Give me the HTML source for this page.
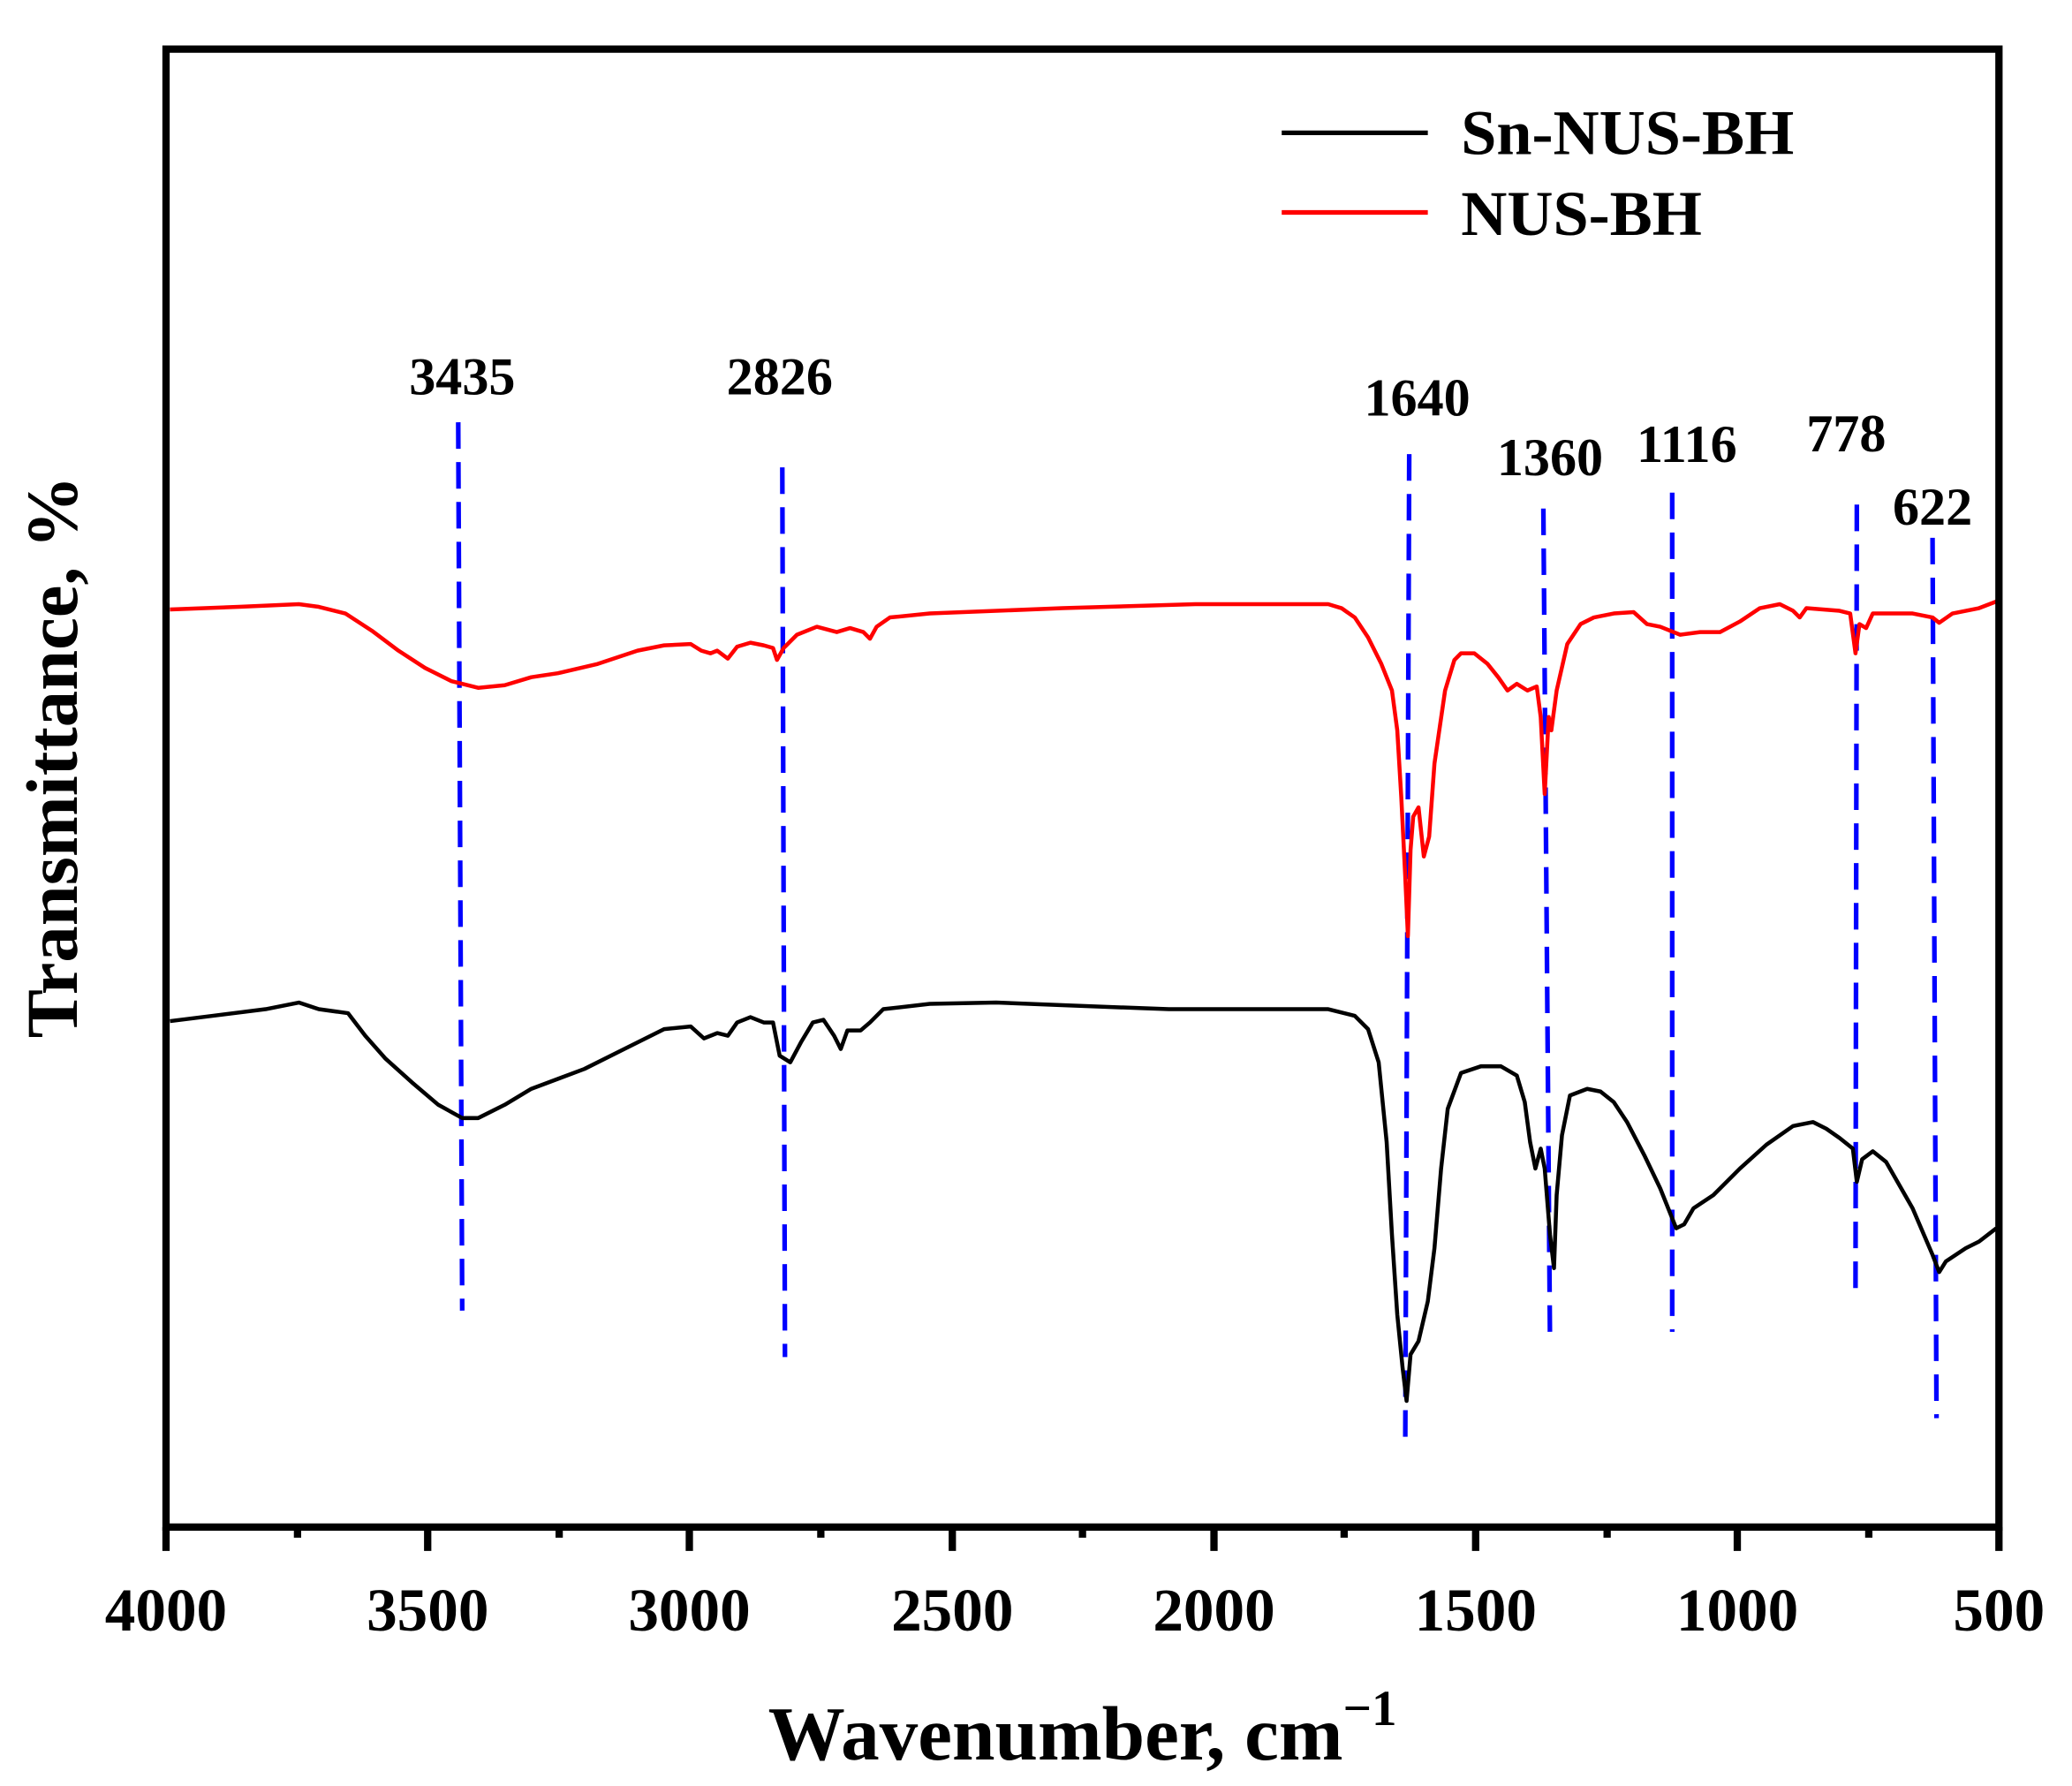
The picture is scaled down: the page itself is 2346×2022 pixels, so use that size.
<!DOCTYPE html>
<html><head><meta charset="utf-8"><style>html,body{margin:0;padding:0;background:#fff}svg{display:block}</style></head>
<body>
<svg width="2346" height="2022" viewBox="0 0 1560 1345" preserveAspectRatio="none" xmlns="http://www.w3.org/2000/svg" font-family="Liberation Serif, serif" font-weight="bold">
<rect width="1560" height="1345" fill="#fff"/>
<g stroke="#00f" stroke-width="3.5" stroke-dasharray="20,10" fill="none">
<line x1="345" y1="318" x2="348" y2="987"/>
<line x1="589" y1="352" x2="591" y2="1022"/>
<line x1="1061" y1="342" x2="1058" y2="1090"/>
<line x1="1162" y1="383" x2="1167" y2="1012"/>
<line x1="1259" y1="371" x2="1259" y2="1003"/>
<line x1="1398" y1="380" x2="1397" y2="972"/>
<line x1="1455" y1="405" x2="1458" y2="1068"/>
</g>
<polyline fill="none" stroke="#f00" stroke-width="3" stroke-linejoin="round" points="128,459 180,457 225,455 240,457 260,462 280,475 300,490 320,503 340,513 360,518 380,516 400,510 420,507 450,500 480,490 500,486 520,485 528,490 535,492 540,490 548,496 555,487 565,484 575,486 582,488 585,497 590,488 600,478 615,472 630,476 640,473 650,476 655,481 660,472 670,465 700,462 800,458 900,455 1000,455 1010,458 1020,465 1030,480 1040,500 1048,520 1052,550 1055,600 1058,660 1060,705 1062,640 1064,615 1068,608 1072,645 1076,630 1080,575 1088,520 1095,497 1100,492 1110,492 1120,500 1128,510 1135,520 1142,515 1150,520 1157,517 1160,540 1163,598 1166,540 1168,550 1172,520 1180,485 1190,470 1200,465 1215,462 1230,461 1240,470 1250,472 1265,478 1280,476 1295,476 1310,468 1325,458 1340,455 1350,460 1355,465 1360,458 1385,460 1393,462 1397,492 1400,470 1405,473 1410,462 1440,462 1455,465 1460,469 1470,462 1490,458 1503,453"/>
<polyline fill="none" stroke="#000" stroke-width="3" stroke-linejoin="round" points="128,769 160,765 200,760 225,755 240,760 262,763 275,780 290,797 310,815 330,832 348,842 360,842 380,832 400,820 440,805 470,790 500,775 520,773 530,782 540,778 548,780 555,770 565,766 575,770 582,770 587,795 595,800 603,785 612,770 620,768 628,780 633,790 638,776 648,776 655,770 665,760 700,756 750,755 800,757 880,760 1000,760 1020,765 1030,775 1038,800 1044,860 1048,930 1052,990 1056,1030 1059,1055 1062,1020 1068,1010 1075,980 1080,940 1085,880 1090,835 1100,808 1115,803 1130,803 1142,810 1148,830 1152,860 1156,880 1160,865 1163,880 1167,930 1170,955 1172,900 1176,855 1182,825 1195,820 1205,822 1215,830 1225,845 1238,870 1250,895 1262,925 1268,922 1275,910 1290,900 1310,880 1330,862 1350,848 1365,845 1375,850 1385,857 1395,865 1398,890 1402,873 1410,867 1420,875 1440,910 1455,945 1460,958 1465,950 1480,940 1490,935 1503,925"/>
<rect x="125" y="37" width="1380" height="1113" fill="none" stroke="#000" stroke-width="5.5"/>
<g stroke="#000" stroke-width="5.5">
<line x1="125" y1="1150" x2="125" y2="1168"/><line x1="322" y1="1150" x2="322" y2="1168"/><line x1="519" y1="1150" x2="519" y2="1168"/><line x1="717" y1="1150" x2="717" y2="1168"/><line x1="914" y1="1150" x2="914" y2="1168"/><line x1="1111" y1="1150" x2="1111" y2="1168"/><line x1="1308" y1="1150" x2="1308" y2="1168"/><line x1="1505" y1="1150" x2="1505" y2="1168"/>
<line x1="224" y1="1150" x2="224" y2="1158"/><line x1="421" y1="1150" x2="421" y2="1158"/><line x1="618" y1="1150" x2="618" y2="1158"/><line x1="815" y1="1150" x2="815" y2="1158"/><line x1="1012" y1="1150" x2="1012" y2="1158"/><line x1="1210" y1="1150" x2="1210" y2="1158"/><line x1="1407" y1="1150" x2="1407" y2="1158"/>
</g>
<g font-size="46" text-anchor="middle">
<text x="125" y="1228">4000</text><text x="322" y="1228">3500</text><text x="519" y="1228">3000</text><text x="717" y="1228">2500</text><text x="914" y="1228">2000</text><text x="1111" y="1228">1500</text><text x="1308" y="1228">1000</text><text x="1505" y="1228">500</text>
</g>
<text x="815" y="1325" font-size="58" text-anchor="middle">Wavenumber, cm<tspan font-size="38" dy="-26">−1</tspan></text>
<text transform="translate(58,570) rotate(-90)" font-size="55" text-anchor="middle">Transmittance, %</text>
<g font-size="40" text-anchor="middle">
<text x="348" y="297">3435</text><text x="587" y="297">2826</text><text x="1067" y="313">1640</text><text x="1167" y="358">1360</text><text x="1270" y="348">1116</text><text x="1390" y="340">778</text><text x="1455" y="395">622</text>
</g>
<line x1="965" y1="100" x2="1075" y2="100" stroke="#000" stroke-width="3.5"/>
<line x1="965" y1="160" x2="1075" y2="160" stroke="#f00" stroke-width="3.5"/>
<text x="1100" y="116" font-size="48">Sn-NUS-BH</text>
<text x="1100" y="177" font-size="48">NUS-BH</text>
</svg>
</body></html>
